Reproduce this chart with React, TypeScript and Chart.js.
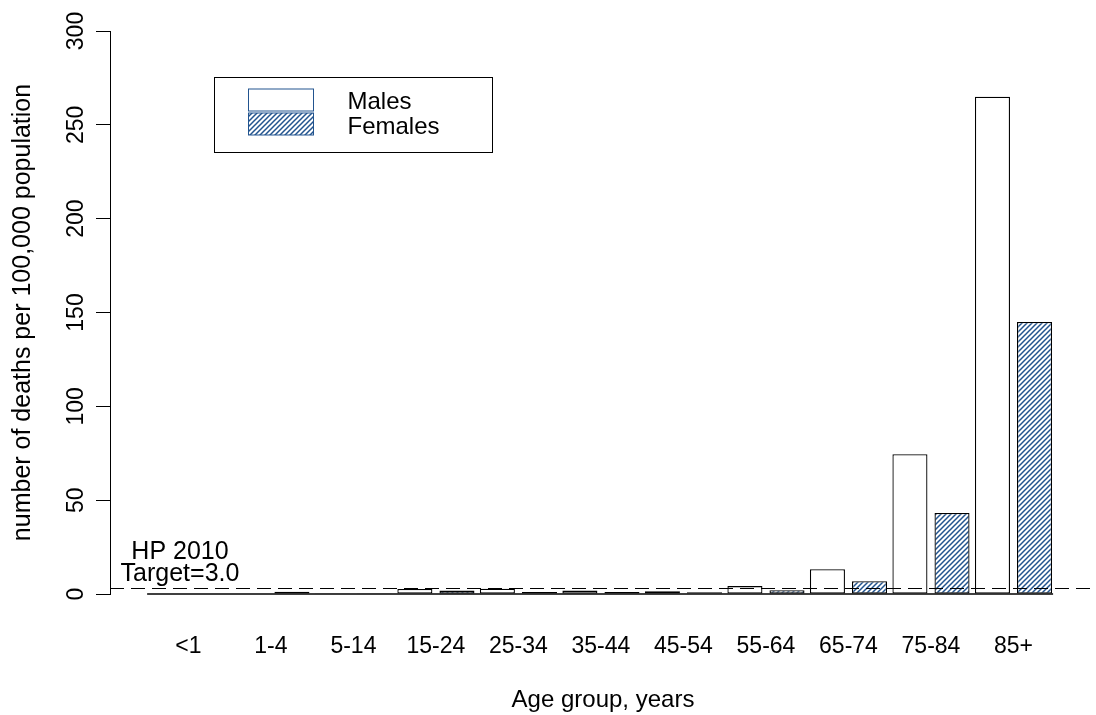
import React, { useEffect, useRef } from "react";
import { Chart, registerables } from "chart.js";

Chart.register(...registerables);

// ---------- data ----------
const categories = ["<1", "1-4", "5-14", "15-24", "25-34", "35-44", "45-54", "55-64", "65-74", "75-84", "85+"];
const malesValues = [0.3, 0.2, 0.1, 2.7, 2.8, 1.8, 1.4, 4.2, 13.2, 74.5, 265];
const femalesValues = [0.3, 1.2, 0.1, 1.8, 1.0, 1.0, 0.9, 2.0, 6.8, 43.2, 145];
const seriesLabels = ["Males", "Females"];
const yTickStep = 50;
const yMin = 0;
const yMax = 300;
const targetValue = 3.0;
const targetLabel = ["HP 2010", "Target=3.0"];
const xTitle = "Age group, years";
const yTitle = "number of deaths per 100,000 population";

const FONT = "'Liberation Sans', Arial, sans-serif";
const HATCH_COLOR = "#22548f";

function makeHatch(): CanvasPattern | string {
  const c = document.createElement("canvas");
  c.width = 5;
  c.height = 5;
  const g = c.getContext("2d");
  if (!g) return HATCH_COLOR;
  g.fillStyle = "#ffffff";
  g.fillRect(0, 0, 5, 5);
  g.strokeStyle = HATCH_COLOR;
  g.lineWidth = 1.5;
  g.beginPath();
  g.moveTo(-1, 6);
  g.lineTo(6, -1);
  g.moveTo(-1, 1);
  g.lineTo(1, -1);
  g.moveTo(4, 6);
  g.lineTo(6, 4);
  g.stroke();
  return g.createPattern(c, "repeat") || HATCH_COLOR;
}

const overlayPlugin = {
  id: "overlay",
  afterDatasetsDraw(chart: any) {
    const { ctx, chartArea, scales } = chart;
    const xs = scales.x;
    const ys = scales.y;
    ctx.save();

    // baseline under the bars
    const y0 = ys.getPixelForValue(0);
    ctx.strokeStyle = "#000";
    ctx.lineWidth = 1.5;
    ctx.beginPath();
    ctx.moveTo(xs.getPixelForValue(-0.5), y0);
    ctx.lineTo(xs.getPixelForValue(categories.length - 0.52), y0);
    ctx.stroke();

    // target dashed line
    const yt = Math.round(ys.getPixelForValue(targetValue)) + 0.5;
    ctx.lineWidth = 1;
    ctx.setLineDash([14, 7]);
    ctx.beginPath();
    ctx.moveTo(chartArea.left, yt);
    ctx.lineTo(chartArea.right, yt);
    ctx.stroke();
    ctx.setLineDash([]);

    // target label
    ctx.fillStyle = "#000";
    ctx.font = `25px ${FONT}`;
    ctx.textAlign = "center";
    ctx.textBaseline = "alphabetic";
    const cx = chartArea.left + 70;
    ctx.fillText(targetLabel[0], cx, yt - 30);
    ctx.fillText(targetLabel[1], cx, yt - 8);

    // legend box
    const lx = chartArea.left + 104.5;
    const ly = chartArea.top + 46.5;
    ctx.strokeStyle = "#000";
    ctx.lineWidth = 1;
    ctx.strokeRect(lx, ly, 278, 75);
    ctx.font = `24px ${FONT}`;
    ctx.textAlign = "left";
    ctx.textBaseline = "middle";
    chart.data.datasets.forEach((ds: any, i: number) => {
      const sx = lx + 34;
      const sy = ly + 11.5 + i * 24;
      ctx.fillStyle = ds.backgroundColor;
      ctx.fillRect(sx, sy, 65, 22);
      ctx.strokeStyle = HATCH_COLOR;
      ctx.strokeRect(sx, sy, 65, 22);
      ctx.fillStyle = "#000";
      ctx.fillText(ds.label, lx + 133, ly + 25 + i * 25);
    });

    ctx.restore();
  },
};

export default function App() {
  const canvasRef = useRef<HTMLCanvasElement | null>(null);

  useEffect(() => {
    const canvas = canvasRef.current;
    if (!canvas) return;
    Chart.defaults.font.family = FONT;
    Chart.defaults.color = "#000";
    const hatch = makeHatch();

    const chart = new Chart(canvas, {
      type: "bar",
      data: {
        datasets: [
          {
            label: seriesLabels[0],
            data: malesValues.map((v, i) => ({ x: i, y: v })),
            backgroundColor: "#ffffff",
            borderColor: "#000000",
            borderWidth: 1.3,
            borderSkipped: false,
            categoryPercentage: 1.02,
            barPercentage: 0.833,
          },
          {
            label: seriesLabels[1],
            data: femalesValues.map((v, i) => ({ x: i, y: v })),
            backgroundColor: hatch as any,
            borderColor: "#000000",
            borderWidth: 1.3,
            borderSkipped: false,
            categoryPercentage: 1.02,
            barPercentage: 0.833,
          },
        ],
      },
      options: {
        responsive: false,
        animation: false,
        layout: { padding: { top: 31, right: 0, left: 0, bottom: 0 } },
        plugins: {
          legend: { display: false },
          tooltip: { enabled: false },
        },
        scales: {
          x: {
            type: "linear",
            offset: false,
            min: -0.95,
            max: 11.0,
            grid: { display: false, offset: false },
            border: { display: false },
            afterBuildTicks: (scale: any) => {
              scale.ticks = categories.map((_, i) => ({ value: i }));
            },
            afterFit: (scale: any) => {
              scale.height = 121;
            },
            ticks: {
              autoSkip: false,
              maxRotation: 0,
              minRotation: 0,
              padding: 31,
              font: { size: 23 },
              color: "#000",
              callback: (value: any) => categories[Math.round(Number(value))] ?? "",
            },
            title: {
              display: true,
              text: xTitle,
              font: { size: 24 },
              color: "#000",
              padding: { top: 0, bottom: 0 },
            },
          },
          y: {
            type: "linear",
            min: yMin,
            max: yMax,
            border: { display: true, color: "#000", width: 1 },
            grid: {
              display: true,
              drawOnChartArea: false,
              drawTicks: true,
              tickLength: 14,
              color: "#000",
            },
            afterFit: (scale: any) => {
              scale.width = 110;
            },
            ticks: {
              stepSize: yTickStep,
              minRotation: 90,
              maxRotation: 90,
              crossAlign: "center",
              padding: 0,
              font: { size: 23 },
              color: "#000",
            },
            title: {
              display: true,
              text: yTitle,
              font: { size: 25 },
              color: "#000",
              padding: { top: 8, bottom: 0 },
            },
          },
        },
      } as any,
      plugins: [overlayPlugin],
    });

    return () => chart.destroy();
  }, []);

  return (
    <div style={{ position: "absolute", left: 0, top: 0, width: 1096, height: 715, background: "#fff" }}>
      <canvas ref={canvasRef} width={1096} height={715} />
    </div>
  );
}
